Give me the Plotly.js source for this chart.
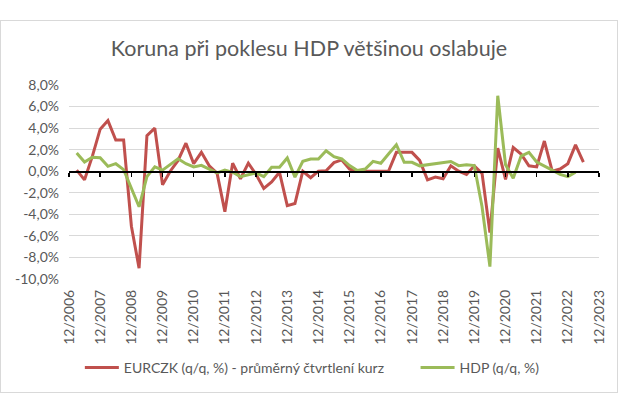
<!DOCTYPE html>
<html>
<head>
<meta charset="utf-8">
<script src="https://cdn.plot.ly/plotly-3.0.1.min.js"></script>
<style>
  body { margin: 0; background: #fff; }
  #chart { position: absolute; left: 0; top: 20px; width: 618px; height: 373px;
           border: 1px solid #d9d9d9; box-sizing: border-box; }
</style>
</head>
<body>
<div id="chart"></div>
<script>
// quarters (first day of the quarter's last month)
var quarters = [
  "2007-03", "2007-06", "2007-09", "2007-12", "2008-03", "2008-06", "2008-09", "2008-12",
  "2009-03", "2009-06", "2009-09", "2009-12", "2010-03", "2010-06", "2010-09", "2010-12",
  "2011-03", "2011-06", "2011-09", "2011-12", "2012-03", "2012-06", "2012-09", "2012-12",
  "2013-03", "2013-06", "2013-09", "2013-12", "2014-03", "2014-06", "2014-09", "2014-12",
  "2015-03", "2015-06", "2015-09", "2015-12", "2016-03", "2016-06", "2016-09", "2016-12",
  "2017-03", "2017-06", "2017-09", "2017-12", "2018-03", "2018-06", "2018-09", "2018-12",
  "2019-03", "2019-06", "2019-09", "2019-12", "2020-03", "2020-06", "2020-09", "2020-12",
  "2021-03", "2021-06", "2021-09", "2021-12", "2022-03", "2022-06", "2022-09", "2022-12",
  "2023-03", "2023-06"
];

// EURCZK q/q change, %
var eurczk = [
  0.1, -0.8, 1.4, 3.9, 4.7, 2.9, 2.9, -5.1,
  -9.0, 3.3, 4.0, -1.25, 0.0, 1.0, 2.6, 0.7,
  1.75, 0.5, -0.2, -3.75, 0.75, -0.7, 0.75, -0.3,
  -1.6, -1.0, -0.1, -3.2, -3.0, 0.0, -0.6, 0.0,
  0.05, 0.8, 1.05, 0.2, 0.0, 0.0, 0.0, 0.0,
  0.0, 1.75, 1.75, 1.75, 1.0, -0.8, -0.55, -0.7,
  0.5, 0.0, -0.3, 0.5, -0.2, -5.7, 2.15, -0.75,
  2.2, 1.6, 0.5, 0.4, 2.8, 0.0, 0.2, 0.7,
  2.45, 0.85
];

// HDP q/q change, %
var hdp = [
  1.7, 0.85, 1.3, 1.25, 0.45, 0.7, 0.15, -1.6,
  -3.3, -0.5, 0.4, 0.1, 0.6, 1.15, 0.7, 0.4,
  0.55, 0.2, -0.15, 0.1, -0.1, -0.5, -0.3, -0.15,
  -0.5, 0.37, 0.37, 1.23, -0.55, 0.92, 1.14, 1.14,
  1.9, 1.35, 1.14, 0.52, 0.06, 0.2, 0.92, 0.74,
  1.6, 2.46, 0.83, 0.83, 0.5, 0.6, 0.7, 0.8,
  0.9, 0.52, 0.6, 0.52, -3.3, -8.85, 7.0, 0.6,
  -0.65, 1.4, 1.75, 0.85, 0.5, 0.1, -0.3, -0.5,
  -0.1, null
];

var yTicks = [-10, -8, -6, -4, -2, 0, 2, 4, 6, 8];
var yTickText = ["-10,0%", "-8,0%", "-6,0%", "-4,0%", "-2,0%", "0,0%", "2,0%", "4,0%", "6,0%", "8,0%"];

var xRange = ["2006-12-01", "2023-12-01"];
var font = "Lato, 'Liberation Sans', sans-serif";
var grey = "#595959";

var trace1 = {
  x: quarters,
  y: eurczk,
  type: "scatter",
  mode: "lines",
  name: "EURCZK (q/q, %) - průměrný čtvrtlení kurz",
  legend: "legend",
  line: { color: "#C0504D", width: 3 }
};

var trace2 = {
  x: quarters,
  y: hdp,
  xaxis: "x2",
  type: "scatter",
  mode: "lines",
  name: "HDP (q/q, %)",
  legend: "legend2",
  line: { color: "#9BBB59", width: 3 }
};

var data = [trace1, trace2];

// one legend per series so both sit on one row where Excel put them
function legendAt(x) {
  return {
    orientation: "h",
    xref: "container", yref: "container",
    x: x, xanchor: "left",
    y: 0.0647, yanchor: "middle",
    itemwidth: 34,
    bgcolor: "rgba(0,0,0,0)",
    font: { family: font, size: 14, color: grey }
  };
}

var layout = {
  width: 616,
  height: 371,
  margin: { l: 68, r: 18, t: 64, b: 113 },
  paper_bgcolor: "#fff",
  plot_bgcolor: "#fff",
  font: { family: font, color: grey },
  title: {
    text: "Koruna při poklesu HDP většinou oslabuje",
    font: { family: font, size: 21.5, color: grey },
    x: 0.5, xref: "container",
    y: 0.927, yanchor: "middle"
  },
  xaxis: {
    type: "date",
    range: xRange,
    tick0: "2006-12-01",
    dtick: "M12",
    tickformat: "%m/%Y",
    tickangle: -90,
    ticks: "",
    ticklabelstandoff: 7,
    showgrid: false,
    zeroline: false,
    showline: false,
    automargin: false,
    tickfont: { size: 14, color: grey }
  },
  xaxis2: {
    type: "date",
    overlaying: "x",
    anchor: "free",
    position: 10 / 18,
    range: xRange,
    tick0: "2006-12-01",
    dtick: "M12",
    ticks: "outside",
    ticklen: 4,
    tickwidth: 1.5,
    tickcolor: "#000",
    showticklabels: false,
    showgrid: false,
    zeroline: false,
    showline: true,
    linecolor: "#000",
    linewidth: 1.5
  },
  yaxis: {
    range: [-10, 8],
    tickvals: yTicks,
    ticktext: yTickText,
    showgrid: true,
    gridcolor: "#d9d9d9",
    gridwidth: 1,
    zeroline: false,
    showline: false,
    ticks: "",
    automargin: false,
    ticklabelstandoff: 9,
    tickfont: { size: 14, color: grey }
  },
  showlegend: true,
  legend: legendAt(0.128),
  legend2: legendAt(0.673)
};

Plotly.newPlot("chart", data, layout, { displayModeBar: false, staticPlot: true });
</script>
</body>
</html>
